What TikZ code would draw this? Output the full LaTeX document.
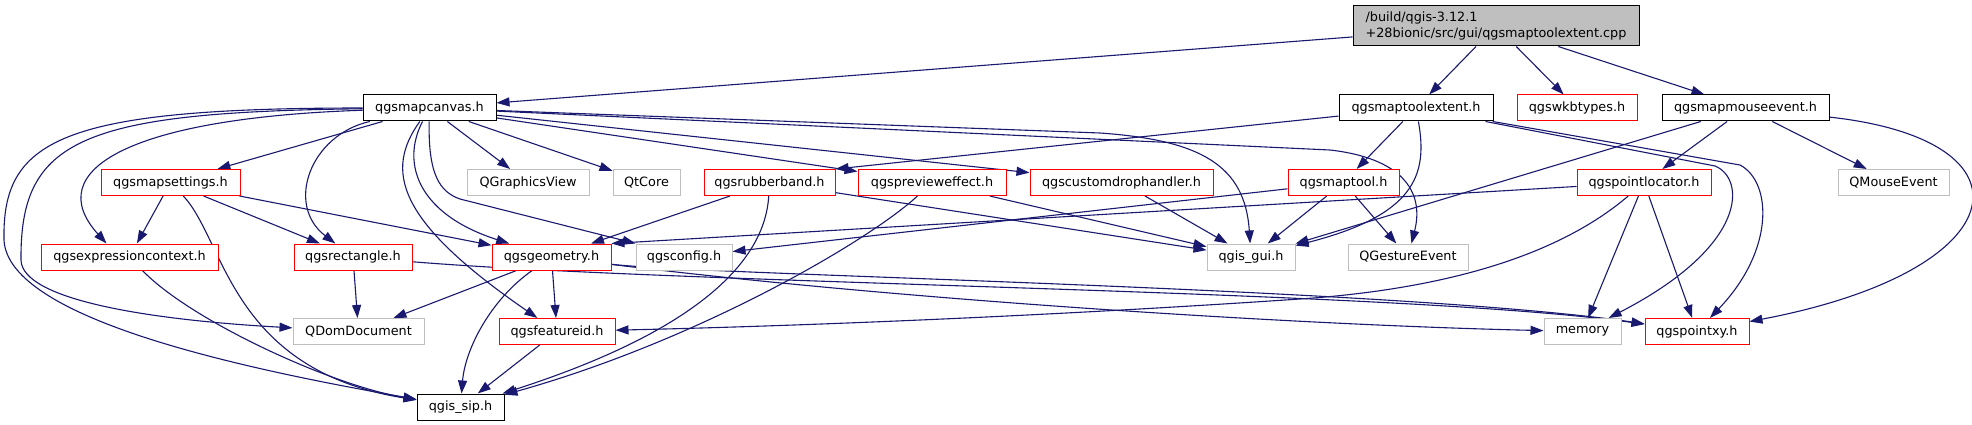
\documentclass[tikz,border=0pt]{standalone}
\usepackage{fontspec}
\newfontfamily\dv{DejaVu Sans}
\usetikzlibrary{arrows.meta}
\definecolor{edgec}{RGB}{25,25,112}
\definecolor{boxred}{RGB}{255,0,0}
\definecolor{boxgray}{RGB}{191,191,191}
\pgfdeclarelayer{edgelayer}
\pgfsetlayers{edgelayer,main}
\begin{document}
\begin{tikzpicture}[x=1pt,y=-1pt,
  box/.style={line width=1pt, minimum height=26pt, inner sep=0pt, fill=white,
    font=\dv\fontsize{12.8}{16}\selectfont},
  blk/.style={box, draw=black},
  redb/.style={box, draw=boxred},
  gry/.style={box, draw=boxgray},
  rootbox/.style={box, draw=black, fill=boxgray, minimum height=40pt, align=left},
  dep/.style={draw=edgec, line width=1.1pt, -{Triangle[length=13pt,width=9pt]}},
]
\useasboundingbox (0,0) rectangle (1972,425);

% nodes
\node[rootbox, minimum width=286pt] (root) at (1496,26) {/build/qgis-3.12.1\\+28bionic/src/gui/qgsmaptoolextent.cpp};

\node[blk, minimum width=133pt] (canvas) at (429.5,108) {qgsmapcanvas.h};
\node[blk, minimum width=154pt] (toolextent) at (1416,108) {qgsmaptoolextent.h};
\node[redb, minimum width=120pt] (wkb) at (1577,108) {qgswkbtypes.h};
\node[blk, minimum width=167pt] (mouse) at (1745.5,108) {qgsmapmouseevent.h};

\node[redb, minimum width=139pt] (mapset) at (170.5,182.5) {qgsmapsettings.h};
\node[gry, minimum width=122pt] (qgv) at (528,182.5) {QGraphicsView};
\node[gry, minimum width=67pt] (qtcore) at (646.5,182.5) {QtCore};
\node[redb, minimum width=131pt] (rubber) at (769.5,182.5) {qgsrubberband.h};
\node[redb, minimum width=148pt] (preview) at (932,182.5) {qgspreviewеffect.h};
\node[redb, minimum width=183pt] (custom) at (1121.5,182.5) {qgscustomdrophandler.h};
\node[redb, minimum width=111pt] (maptool) at (1343.5,182.5) {qgsmaptool.h};
\node[redb, minimum width=134pt] (locator) at (1644,182.5) {qgspointlocator.h};
\node[gry, minimum width=111pt] (qmouse) at (1893.5,182.5) {QMouseEvent};

\node[redb, minimum width=177pt] (expr) at (129.5,257) {qgsexpressioncontext.h};
\node[redb, minimum width=118pt] (rect) at (353,257) {qgsrectangle.h};
\node[redb, minimum width=119pt] (geom) at (551.5,257) {qgsgeometry.h};
\node[gry, minimum width=96pt] (config) at (684,257) {qgsconfig.h};
\node[gry, minimum width=88pt] (gui) at (1251,257) {qgis\_gui.h};
\node[gry, minimum width=120pt] (qgesture) at (1408,257) {QGestureEvent};

\node[gry, minimum width=131pt] (qdom) at (358.5,331.5) {QDomDocument};
\node[redb, minimum width=116pt] (featid) at (557,331.5) {qgsfeatureid.h};
\node[gry, minimum width=77pt] (memory) at (1582.5,331.5) {memory};
\node[redb, minimum width=104pt] (pointxy) at (1697,331.5) {qgspointxy.h};

\node[blk, minimum width=87pt] (sip) at (460.5,407) {qgis\_sip.h};

\begin{pgfonlayer}{edgelayer}
\fill[white] (0,0) rectangle (1972,425);
% root
\draw[dep] (root) -- (canvas);
\draw[dep] (root) -- (toolextent);
\draw[dep] (root) -- (wkb);
\draw[dep] (root) -- (mouse);
% canvas
\draw[dep] (canvas) .. controls (60,108) and (2,140) .. (4,240) .. controls (8,320) and (250,370) .. (sip);
\draw[dep] (canvas) .. controls (80,112) and (20,140) .. (21,260) .. controls (22,300) and (150,320) .. (qdom);
\draw[dep] (canvas) .. controls (130,118) and (40,170) .. ([xshift=66pt]expr.north west);
\draw[dep] (canvas) -- (mapset);
\draw[dep] (canvas) .. controls (310,135) and (285,205) .. (rect);
\draw[dep] (canvas) .. controls (400,165) and (420,215) .. (geom);
\draw[dep] (canvas) .. controls (385,170) and (395,220) .. (featid);
\draw[dep] (canvas) .. controls (428,175) and (440,192) .. (460,199) -- (config.north west);
\draw[dep] (canvas) -- (qgv);
\draw[dep] (canvas) -- (qtcore);
\draw[dep] (canvas) -- (preview);
\draw[dep] (canvas) -- (custom);
\draw[dep] (canvas) -- (1100,133) .. controls (1200,140) and (1245,165) .. (gui);
\draw[dep] (canvas) -- (1330,150) .. controls (1400,158) and (1425,190) .. (qgesture);
% mapsettings
\draw[dep] (mapset) -- (expr);
\draw[dep] (mapset) -- (rect);
\draw[dep] (mapset) -- (geom);
\draw[dep] (mapset) .. controls (225,240) and (230,370) .. (sip);
\draw[dep] (expr) .. controls (190,320) and (330,385) .. (sip);
% rectangle, geometry
\draw[dep] (rect) -- (qdom);
\draw[dep] (rect) .. controls (700,285) and (1400,290) .. (pointxy);
\draw[dep] (geom) -- (qdom);
\draw[dep] (geom) -- (featid);
\draw[dep] (geom) .. controls (490,300) and (465,350) .. (sip);
\draw[dep] (geom) .. controls (900,300) and (1300,325) .. (memory);
\draw[dep] (geom) .. controls (700,275) and (1400,288) .. (pointxy);
\draw[dep] (featid) -- (sip);
% rubberband, preview, custom
\draw[dep] (rubber) -- (geom);
\draw[dep] (rubber) -- (gui);
\draw[dep] (rubber) .. controls (765,260) and (700,330) .. (sip);
\draw[dep] (preview) -- (gui);
\draw[dep] (preview) .. controls (870,240) and (700,340) .. (sip);
\draw[dep] (custom) -- (gui);
% toolextent
\draw[dep] (toolextent) -- (rubber.north east);
\draw[dep] (toolextent) -- (maptool);
\draw[dep] (toolextent) .. controls (1428,175) and (1415,215) .. (gui);
\draw[dep] (toolextent) -- (1715,166) .. controls (1745,178) and (1750,245) .. (memory);
\draw[dep] (toolextent) -- (1740,165) .. controls (1772,182) and (1775,250) .. (pointxy);
% maptool
\draw[dep] (maptool) -- (gui);
\draw[dep] (maptool) -- (qgesture);
\draw[dep] (maptool) -- (config);
% mouse event
\draw[dep] (mouse) -- (gui);
\draw[dep] (mouse) -- (locator);
\draw[dep] (mouse) -- (qmouse);
\draw[dep] (mouse) .. controls (2040,140) and (2020,270) .. (pointxy);
% point locator
\draw[dep] (locator) -- (geom.north east);
\draw[dep] (locator) .. controls (1565,250) and (1460,288) .. (1300,299) .. controls (1050,316) and (800,326) .. (featid);
\draw[dep] (locator) -- (memory);
\draw[dep] (locator) -- (pointxy);
\end{pgfonlayer}
\end{tikzpicture}
\end{document}
